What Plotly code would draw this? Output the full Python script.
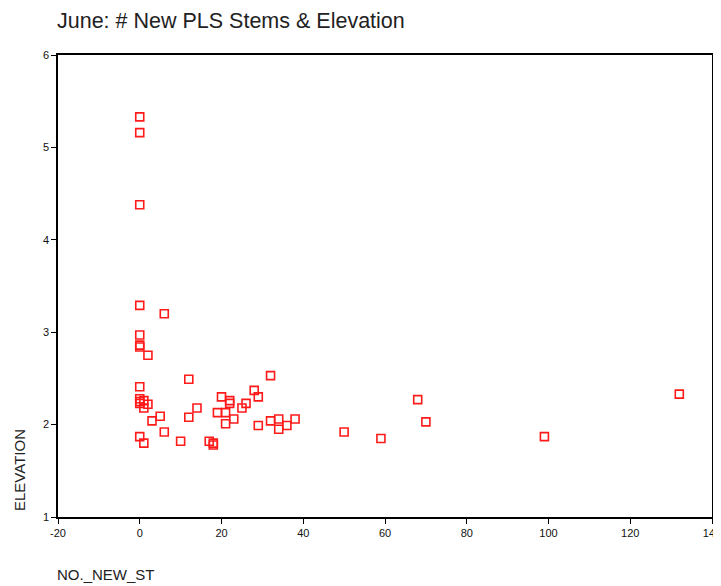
import plotly.graph_objects as go

# NO._NEW_ST (x) and ELEVATION (y)
no_new_st = [0, 0, 0, 0, 6, 0, 0, 0, 2, 12, 0, 32, 0, 0, 0, 1, 2, 1, 5, 3,
             6, 0, 1, 10, 12, 14, 17, 18, 18, 20, 22, 22, 19, 21, 21, 23, 26,
             25, 28, 29, 29, 32, 34, 34, 36, 38, 50, 59, 68, 70, 99, 132]
elevation = [5.33, 5.16, 4.38, 3.29, 3.20, 2.97, 2.86, 2.84, 2.75, 2.49, 2.41,
             2.53, 2.28, 2.25, 2.23, 2.26, 2.22, 2.18, 2.09, 2.04,
             1.92, 1.87, 1.80, 1.82, 2.08, 2.18, 1.82, 1.80, 1.78, 2.30, 2.26,
             2.23, 2.13, 2.13, 2.01, 2.06, 2.23,
             2.18, 2.37, 2.30, 1.99, 2.04, 2.06, 1.95, 1.99, 2.06, 1.92, 1.85,
             2.27, 2.03, 1.87, 2.33]

x_ticks = [-20, 0, 20, 40, 60, 80, 100, 120, 140]
y_ticks = [1, 2, 3, 4, 5, 6]

title_text = "June: # New PLS Stems & Elevation"
x_title = "NO._NEW_ST"
y_title = "ELEVATION"

# page body has an 8px margin, so the figure is drawn 8px in from the top-left
OFF = 8
W, H = 721 - OFF, 586 - OFF
# desired plot box in window pixels: x 58..712, y 55..517
L, R, T, B = 58 - OFF, 721 - 712, 55 - OFF, 586 - 517

pw = W - L - R
ph = H - T - B


def px_x(wx):
    return (wx - OFF - L) / pw


def px_y(wy):
    return 1 - (wy - OFF - T) / ph


fig = go.Figure()
fig.add_trace(go.Scatter(
    x=no_new_st, y=elevation, mode="markers",
    marker=dict(symbol="square-open", size=8, color="#ff1a1a",
                line=dict(width=1.6, color="#ff1a1a")),
    showlegend=False, hoverinfo="x+y"))

tickfont = dict(family="Liberation Sans Narrow, Arial Narrow, Liberation Sans, Arial", size=11, color="#111")
axis_common = dict(showgrid=False, zeroline=False, showline=True, linecolor="black",
                   linewidth=1.5, mirror=True, ticks="outside", ticklen=5,
                   tickwidth=1, tickcolor="black", tickfont=tickfont, automargin=False,
                   ticklabeloverflow="allow")

fig.update_xaxes(range=[-20, 140], tickvals=x_ticks, ticktext=[str(v) for v in x_ticks],
                 **axis_common)
fig.update_yaxes(range=[1, 6], tickvals=y_ticks, ticktext=[str(v) for v in y_ticks],
                 **axis_common)

fig.update_layout(
    width=W, height=H,
    margin=dict(l=L, r=R, t=T, b=B, pad=0, autoexpand=False),
    paper_bgcolor="white", plot_bgcolor="white",
    font=dict(family="Liberation Sans, Arial", color="#222"),
    annotations=[
        dict(text=title_text, xref="paper", yref="paper",
             x=px_x(55), y=px_y(21), xanchor="left", yanchor="middle",
             showarrow=False, font=dict(size=21.5, family="Liberation Sans, Arial", color="#222")),
        dict(text=x_title, xref="paper", yref="paper",
             x=px_x(55), y=px_y(574), xanchor="left", yanchor="middle",
             showarrow=False, font=dict(size=15, family="Liberation Sans, Arial", color="#222")),
        dict(text=y_title, xref="paper", yref="paper", textangle=-90,
             x=px_x(19), y=px_y(513), xanchor="center", yanchor="bottom",
             showarrow=False, font=dict(size=15, family="Liberation Sans, Arial", color="#222")),
    ],
)

fig.write_html("out.html")
